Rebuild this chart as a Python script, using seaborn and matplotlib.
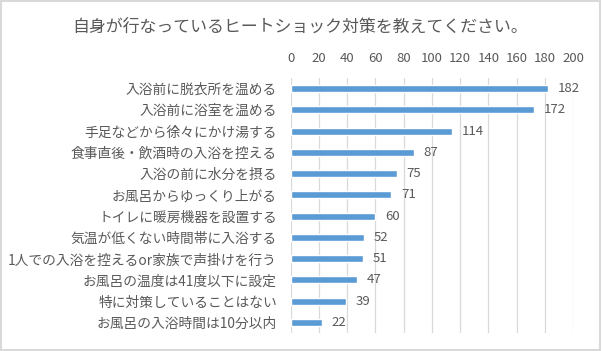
import matplotlib
matplotlib.use("Agg")
import matplotlib.pyplot as plt
import seaborn as sns
import pandas as pd
from matplotlib.patches import Rectangle

title = "自身が行なっているヒートショック対策を教えてください。"
measures = [
    "入浴前に脱衣所を温める",
    "入浴前に浴室を温める",
    "手足などから徐々にかけ湯する",
    "食事直後・飲酒時の入浴を控える",
    "入浴の前に水分を摂る",
    "お風呂からゆっくり上がる",
    "トイレに暖房機器を設置する",
    "気温が低くない時間帯に入浴する",
    "1人での入浴を控えるor家族で声掛けを行う",
    "お風呂の温度は41度以下に設定",
    "特に対策していることはない",
    "お風呂の入浴時間は10分以内",
]
counts = [182, 172, 114, 87, 75, 71, 60, 52, 51, 47, 39, 22]
x_ticks = [0, 20, 40, 60, 80, 100, 120, 140, 160, 180, 200]

df = pd.DataFrame({"measure": measures, "count": counts})

sns.set_theme(style="white")
plt.rcParams["font.family"] = ["Noto Sans CJK JP", "DejaVu Sans"]
text_color = "#595959"

fig = plt.figure(figsize=(6.02, 3.51), dpi=100)
ax = fig.add_axes([0.483, 0.051, 0.469, 0.727])

sns.barplot(data=df, x="count", y="measure", color="#5B9BD5", width=0.33,
            saturation=1, ax=ax, zorder=3)

ax.set_xlim(0, 200)
ax.set_xticks(x_ticks)
ax.xaxis.tick_top()
ax.tick_params(axis="x", length=0, pad=9, labelsize=9.5, labelcolor=text_color)
ax.tick_params(axis="y", length=0, pad=10, labelsize=9.9, labelcolor=text_color)
ax.grid(axis="x", color="#D9D9D9", linewidth=0.9, zorder=0)
for s in ax.spines.values():
    s.set_visible(False)
ax.set_xlabel("")
ax.set_ylabel("")

for i, v in enumerate(counts):
    ax.text(v + 7, i, str(v), va="center", ha="left", fontsize=9.5, color=text_color)

fig.text(0.498, 0.923, title, ha="center", va="center", fontsize=12.2, color=text_color)

fig.patches.append(Rectangle((0.002, 0.003), 0.994, 0.993, transform=fig.transFigure,
                             fill=False, edgecolor="#D9D9D9", linewidth=1.5))

fig.savefig("out.png", dpi=100)
